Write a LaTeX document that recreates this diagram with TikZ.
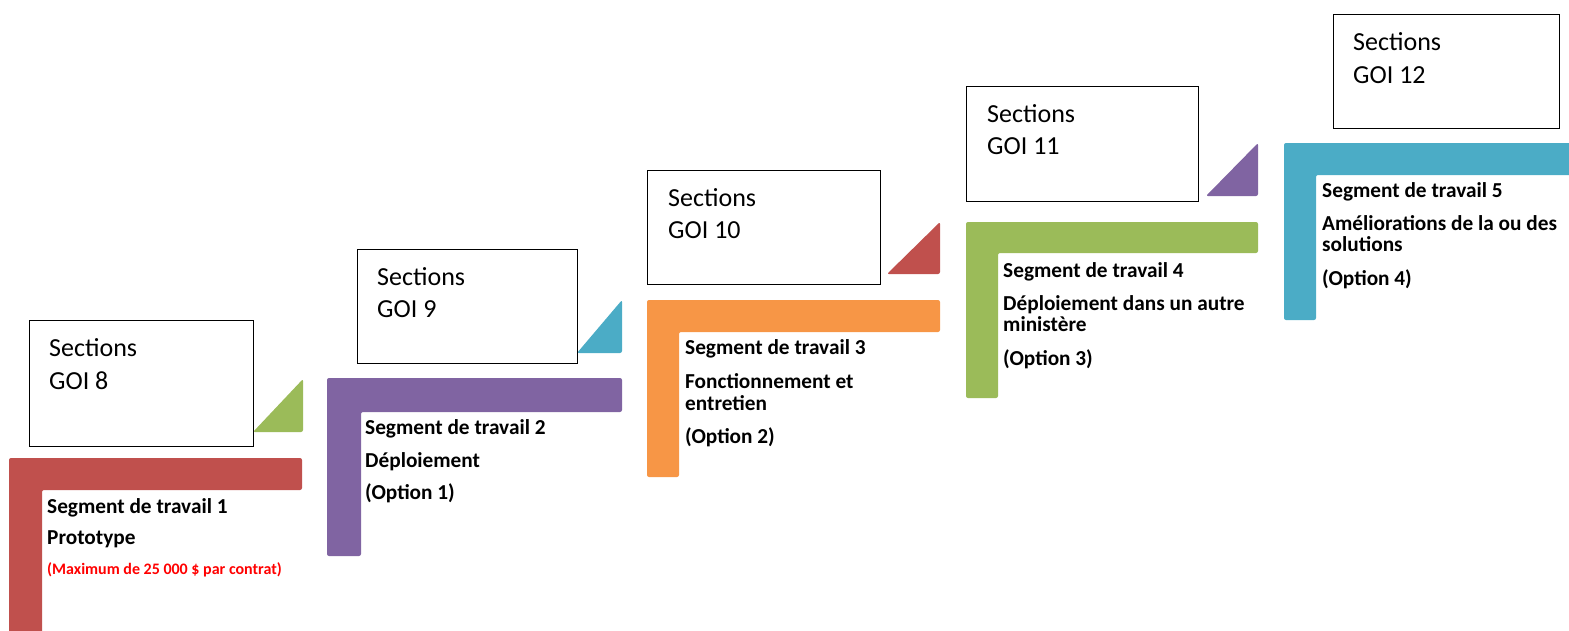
\documentclass[tikz,border=0pt]{standalone}
\usepackage{fontspec}
\setmainfont{Carlito}
\definecolor{cred}{HTML}{C0504D}
\definecolor{cpurple}{HTML}{8064A2}
\definecolor{corange}{HTML}{F79646}
\definecolor{cgreen}{HTML}{9BBB59}
\definecolor{cblue}{HTML}{4BACC6}
\definecolor{alert}{HTML}{FF0000}
\begin{document}
\begin{tikzpicture}[x=1pt,y=-1pt,
  secbox/.style={draw=black, line width=1.2pt, fill=white, anchor=north west, inner sep=0pt},
  sectxt/.style={anchor=base west, inner sep=0pt, font=\fontsize{26}{33}\selectfont},
  segtxt/.style={anchor=base west, inner sep=0pt, font=\fontsize{21.3}{22}\selectfont\bfseries},
  redtxt/.style={anchor=base west, inner sep=0pt, text=alert, font=\fontsize{16}{18}\selectfont\bfseries},
  ell/.style={rounded corners=2pt},
  tri/.style={rounded corners=2pt}
]
\useasboundingbox (0,0) rectangle (1569,630);

% L shapes
\fill[cred, ell] (9,458) -- (302,458) -- (302,490) -- (42,490) -- (42,640) -- (9,640) -- cycle;
\fill[cpurple, ell] (327,378) -- (622,378) -- (622,412) -- (361,412) -- (361,556) -- (327,556) -- cycle;
\fill[corange, ell] (647,300) -- (940,300) -- (940,332) -- (679,332) -- (679,477) -- (647,477) -- cycle;
\fill[cgreen, ell] (966,222) -- (1258,222) -- (1258,253) -- (998,253) -- (998,398) -- (966,398) -- cycle;
\fill[cblue, ell] (1284,143) -- (1580,143) -- (1580,175) -- (1316,175) -- (1316,320) -- (1284,320) -- cycle;

% triangles
\fill[cgreen, tri] (253,432) -- (303,432) -- (303,379) -- cycle;
\fill[cblue, tri] (577,353) -- (622,353) -- (622,300) -- cycle;
\fill[cred, tri] (887,274) -- (940,274) -- (940,222) -- cycle;
\fill[cpurple, tri] (1206,196) -- (1258,196) -- (1258,143) -- cycle;

% boxes
\node[secbox, minimum width=224pt, minimum height=126pt] (box1) at (29,320) {};
\node[secbox, minimum width=220pt, minimum height=114pt] (box2) at (357,249) {};
\node[secbox, minimum width=233pt, minimum height=114pt] (box3) at (647,170) {};
\node[secbox, minimum width=232pt, minimum height=115pt] (box4) at (966,86) {};
\node[secbox, minimum width=226pt, minimum height=114pt] (box5) at (1333,14) {};

\node[sectxt] (s1a) at (49,356) {Sections};
\node[sectxt] (s1b) at (49,389) {GOI 8};
\node[sectxt] (s2a) at (377,285) {Sections};
\node[sectxt] (s2b) at (377,317) {GOI 9};
\node[sectxt] (s3a) at (668,206) {Sections};
\node[sectxt] (s3b) at (668,238) {GOI 10};
\node[sectxt] (s4a) at (987,122) {Sections};
\node[sectxt] (s4b) at (987,154) {GOI 11};
\node[sectxt] (s5a) at (1353,50) {Sections};
\node[sectxt] (s5b) at (1353,83) {GOI 12};

% segment texts
\node[segtxt] (t1a) at (47,513) {Segment de travail 1};
\node[segtxt] (t1b) at (47,544) {Prototype};
\node[redtxt] (t1c) at (47,574) {(Maximum de 25 000 \$ par contrat)};

\node[segtxt] (t2a) at (365,434) {Segment de travail 2};
\node[segtxt] (t2b) at (365,467) {Déploiement};
\node[segtxt] (t2c) at (365,499) {(Option 1)};

\node[segtxt] (t3a) at (685,354) {Segment de travail 3};
\node[segtxt] (t3b) at (685,388) {Fonctionnement et};
\node[segtxt] (t3c) at (685,410) {entretien};
\node[segtxt] (t3d) at (685,443) {(Option 2)};

\node[segtxt] (t4a) at (1003,277) {Segment de travail 4};
\node[segtxt] (t4b) at (1003,310) {Déploiement dans un autre};
\node[segtxt] (t4c) at (1003,331) {ministère};
\node[segtxt] (t4d) at (1003,365) {(Option 3)};

\node[segtxt] (t5a) at (1322,197) {Segment de travail 5};
\node[segtxt] (t5b) at (1322,230) {Améliorations de la ou des};
\node[segtxt] (t5c) at (1322,251) {solutions};
\node[segtxt] (t5d) at (1322,285) {(Option 4)};
\end{tikzpicture}
\end{document}
